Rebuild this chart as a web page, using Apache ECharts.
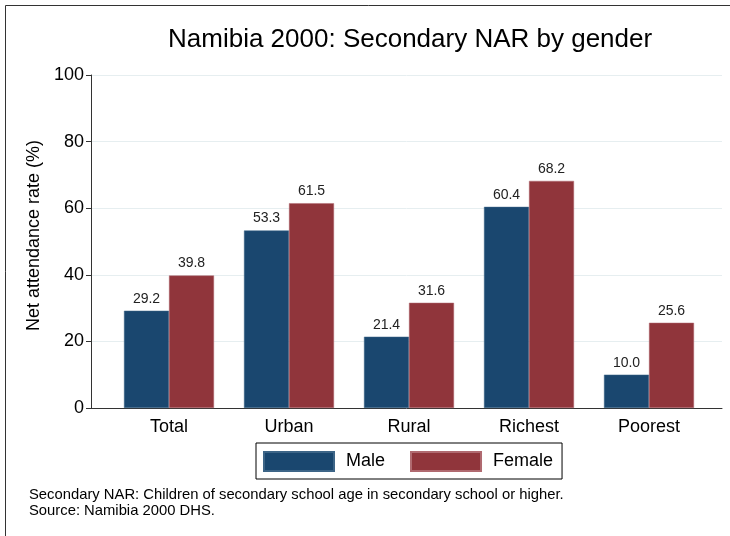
<!DOCTYPE html>
<html>
<head>
<meta charset="utf-8">
<script src="https://cdn.jsdelivr.net/npm/echarts@6/dist/echarts.min.js"></script>
<style>
  html, body { margin: 0; padding: 0; background: #fff; }
</style>
</head>
<body>
<div id="chart" style="width:730px;height:536px"></div>
<script>
// data
const categories = ['Total', 'Urban', 'Rural', 'Richest', 'Poorest']
const maleValues = [29.2, 53.3, 21.4, 60.4, 10.0]
const femaleValues = [39.8, 61.5, 31.6, 68.2, 25.6]
const yTicks = [0, 20, 40, 60, 80, 100]

const chart = echarts.init(document.getElementById('chart'))
const font = 'Liberation Sans, Arial, Helvetica, sans-serif'

const barLabel = {
  show: true,
  position: 'top',
  distance: 5,
  fontSize: 14,
  fontFamily: font,
  color: '#222',
  formatter: p => p.value.toFixed(1)
}

chart.setOption({
  animation: false,
  textStyle: { fontFamily: font },
  title: [
    {
      text: 'Namibia 2000: Secondary NAR by gender',
      left: 163,
      top: 22,
      textStyle: { fontSize: 26, fontWeight: 'normal', color: '#000', fontFamily: font }
    },
    {
      // footnote
      text: 'Secondary NAR: Children of secondary school age in secondary school or higher.\nSource: Namibia 2000 DHS.',
      left: 24,
      top: 482,
      textStyle: { fontSize: 14.8, fontWeight: 'normal', color: '#000', lineHeight: 16, fontFamily: font }
    }
  ],
  legend: {
    data: ['Male', 'Female'],
    left: 256,
    top: 443,
    itemWidth: 70,
    itemHeight: 19,
    itemGap: 25,
    padding: [8, 9, 7, 7],
    borderColor: '#000',
    borderWidth: 1,
    icon: 'rect',
    textStyle: { fontSize: 18, color: '#000', padding: [0, 0, 0, 7], fontFamily: font }
  },
  grid: [
    // axis frame: y-axis + long x-axis line
    { left: 91, right: 8, top: 75, bottom: 128 },
    // bars sit inside, with an outer gap like the reference
    { left: 109, width: 600, top: 75, bottom: 128 }
  ],
  xAxis: [
    {
      gridIndex: 0,
      type: 'value',
      min: 0,
      max: 1,
      axisLine: { show: true, lineStyle: { color: '#333', width: 1 } },
      axisTick: { show: false },
      axisLabel: { show: false },
      splitLine: { show: false }
    },
    {
      gridIndex: 1,
      type: 'category',
      data: categories,
      axisLine: { show: false },
      axisTick: { show: false },
      axisLabel: { fontSize: 18, color: '#000', margin: 10, fontFamily: font }
    }
  ],
  yAxis: [
    {
      gridIndex: 0,
      type: 'value',
      min: yTicks[0],
      max: yTicks[yTicks.length - 1],
      interval: 20,
      name: 'Net attendance rate (%)',
      nameLocation: 'middle',
      nameGap: 43,
      nameTextStyle: { fontSize: 18, color: '#000', padding: [0, 0, 0, 12], fontFamily: font },
      axisLine: { show: true, lineStyle: { color: '#333' } },
      axisTick: { show: true, length: 5, lineStyle: { color: '#333' } },
      axisLabel: { fontSize: 18, color: '#000', margin: 7, fontFamily: font },
      splitLine: { show: true, lineStyle: { color: '#e6eef0', width: 1 } }
    },
    {
      gridIndex: 1,
      type: 'value',
      min: yTicks[0],
      max: yTicks[yTicks.length - 1],
      show: false
    }
  ],
  series: [
    {
      name: 'Male',
      type: 'bar',
      xAxisIndex: 1,
      yAxisIndex: 1,
      data: maleValues,
      barGap: '0%',
      barCategoryGap: '25%',
      itemStyle: { color: '#1a476f', borderColor: '#3d6587', borderWidth: 0.5 },
      label: barLabel
    },
    {
      name: 'Female',
      type: 'bar',
      xAxisIndex: 1,
      yAxisIndex: 1,
      data: femaleValues,
      barGap: '0%',
      barCategoryGap: '25%',
      itemStyle: { color: '#90353b', borderColor: '#b06a70', borderWidth: 0.5 },
      label: barLabel
    }
  ],
  graphic: [
    {
      // outer frame, cropped at right and bottom like the reference
      type: 'rect',
      shape: { x: 5.5, y: 5.5, width: 900, height: 900 },
      style: { fill: 'none', stroke: '#333', lineWidth: 1 },
      silent: true,
      z: -1
    }
  ]
})
</script>
</body>
</html>
